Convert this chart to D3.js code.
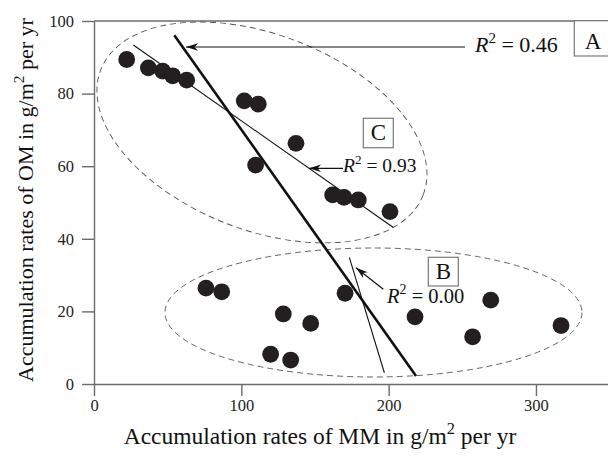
<!DOCTYPE html>
<html><head><meta charset="utf-8">
<script src="https://cdn.jsdelivr.net/npm/d3@7/dist/d3.min.js"></script>
<style>body{margin:0;background:#fff}svg{display:block}svg text{font-family:'Liberation Serif','DejaVu Serif',serif}</style>
</head><body>
<svg id="c" width="608" height="456"></svg>
<script>
// MM accumulation (x) and OM accumulation (y), group C (upper) and group B (lower)
const groupC_x = [22.2, 36.9, 46.6, 53.4, 62.9, 102, 111.5, 137.1, 109.7, 162, 169.7, 179.4, 200.9];
const groupC_y = [89.4, 87.1, 86.2, 84.9, 83.7, 78.0, 77.1, 66.3, 60.3, 52.1, 51.4, 50.7, 47.5];
const groupB_x = [76, 86.7, 170.4, 128.5, 147.1, 119.9, 133.5, 217.9, 269.3, 257, 317];
const groupB_y = [26.4, 25.4, 25.0, 19.3, 16.7, 8.2, 6.6, 18.5, 23.1, 13.0, 16.1];
// regression lines: [x1, y1, x2, y2]
const fitAll = [54.5, 96.1, 218.6, 2.2];
const fitC = [26.7, 93.4, 203.2, 43.1];
const fitB = [173.3, 34.9, 197.1, 3.1];
const xTicks = [0, 100, 200, 300];
const yTicks = [0, 20, 40, 60, 80, 100];
const r2Labels = ["0.46", "0.93", "0.00"];
const groupLabels = ["A", "B", "C"];
const xTitle = ["Accumulation rates of MM in g/m", "2", " per yr"];
const yTitle = ["Accumulation rates of OM in g/m", "2", " per yr"];

const svg = d3.select("#c");
const x = d3.scaleLinear().domain([0, 348.9]).range([94, 608]);
const y = d3.scaleLinear().domain([0, 100]).range([384, 21]);
const serif = "'Liberation Serif','DejaVu Serif',serif";
const axisCol = "#6b6b6b";

svg.append("defs").append("marker").attr("id","ah").attr("viewBox","0 0 12 8")
  .attr("refX",12).attr("refY",4).attr("markerWidth",12).attr("markerHeight",8)
  .attr("markerUnits","userSpaceOnUse").attr("orient","auto-start-reverse")
  .append("path").attr("d","M12,4 L0,0.3 L3.5,4 L0,7.7 Z").attr("fill","#111");

// ellipses (dashed)
const ellC = {cx: 114.0, cy: 69.3, a: 172.9, b: 97.7, rot: 21.2};
const ellB = {cx: 189.7, cy: 19.7, a: 208.5, b: 64.5, rot: 0};
[ellC, ellB].forEach(e => {
  svg.append("ellipse").attr("cx", 0).attr("cy", 0).attr("rx", e.a).attr("ry", e.b)
    .attr("transform", `translate(${x(e.cx)},${y(e.cy)}) rotate(${e.rot})`)
    .attr("fill","none").attr("stroke","#555").attr("stroke-width",0.9)
    .attr("stroke-dasharray","6,4");
});

// axes
const gx = svg.append("g").attr("transform",`translate(0,${y(0)})`)
  .call(d3.axisBottom(x).tickValues(xTicks).tickSize(12).tickSizeOuter(0).tickPadding(3));
const gy = svg.append("g").attr("transform",`translate(${x(0)},0)`)
  .call(d3.axisLeft(y).tickValues(yTicks).tickSize(12).tickSizeOuter(0).tickPadding(8));
[gx, gy].forEach(g => {
  g.attr("font-family", serif).attr("font-size", 16.5);
  g.selectAll("path,line").attr("stroke", axisCol).attr("stroke-width", 1.4);
  g.selectAll("text").style("font-family", serif).attr("font-size", 16.5).attr("fill","#222");
});
svg.append("line").attr("x1", x(0)).attr("x2", 608).attr("y1", y(100)).attr("y2", y(100))
  .attr("stroke", axisCol).attr("stroke-width", 1.4);

// regression lines
[[fitAll, 2.6], [fitC, 1.1], [fitB, 1.1]].forEach(([f, w]) => {
  svg.append("line").attr("x1", x(f[0])).attr("y1", y(f[1])).attr("x2", x(f[2])).attr("y2", y(f[3]))
    .attr("stroke","#111").attr("stroke-width", w);
});

// points
const pts = groupC_x.map((v,i)=>[v, groupC_y[i]]).concat(groupB_x.map((v,i)=>[v, groupB_y[i]]));
svg.selectAll("circle.p").data(pts).enter().append("circle").attr("class","p")
  .attr("cx", d => x(d[0])).attr("cy", d => y(d[1])).attr("r", 8.4).attr("fill", "#231f20");

// arrows
function arrow(x1, y1, x2, y2) {
  svg.append("line").attr("x1",x1).attr("y1",y1).attr("x2",x2).attr("y2",y2)
    .attr("stroke","#111").attr("stroke-width",1.2).attr("marker-start","url(#ah)");
}
arrow(186, 47, 465, 47);
arrow(309, 168.3, 343, 168.3);
arrow(356, 267.8, 383.3, 289.3);

// R^2 labels
function r2(xp, yp, val, fs) {
  const t = svg.append("text").attr("x", xp).attr("y", yp).style("font-family", serif)
    .attr("font-size", fs).attr("fill","#111");
  t.append("tspan").attr("font-style","italic").text("R");
  t.append("tspan").attr("font-size", fs*0.68).attr("dy", -fs*0.42).text("2");
  t.append("tspan").attr("dy", fs*0.42).text(" = " + val);
}
r2(475, 52, r2Labels[0], 22);
r2(343, 171.7, r2Labels[1], 19.5);
r2(387, 302.7, r2Labels[2], 20.5);

// boxed letters
function boxLetter(x0, y0, x1, y1, txt) {
  svg.append("rect").attr("x", x0).attr("y", y0).attr("width", x1-x0).attr("height", y1-y0)
    .attr("fill","#fff").attr("stroke","#777").attr("stroke-width",1.2);
  svg.append("text").attr("x", (x0+x1)/2).attr("y", y1 - 7.5).attr("text-anchor","middle")
    .style("font-family", serif).attr("font-size", 23).attr("fill","#111").text(txt);
}
boxLetter(574.3, 20.7, 612, 56, groupLabels[0]);
boxLetter(428.3, 257.3, 458.3, 286, groupLabels[1]);
boxLetter(363.3, 118.3, 393.3, 147.7, groupLabels[2]);

// axis titles
function title(t, parts, fs) {
  t.style("font-family", serif).attr("font-size", fs).attr("fill","#111").attr("text-anchor","middle");
  t.append("tspan").text(parts[0]);
  t.append("tspan").attr("font-size", fs*0.7).attr("dy", -fs*0.42).text(parts[1]);
  t.append("tspan").attr("dy", fs*0.42).text(parts[2]);
}
title(svg.append("text").attr("x", 320).attr("y", 444), xTitle, 23.5);
title(svg.append("text").attr("transform","translate(33,200) rotate(-90)"), yTitle, 22);
</script>
</body></html>
